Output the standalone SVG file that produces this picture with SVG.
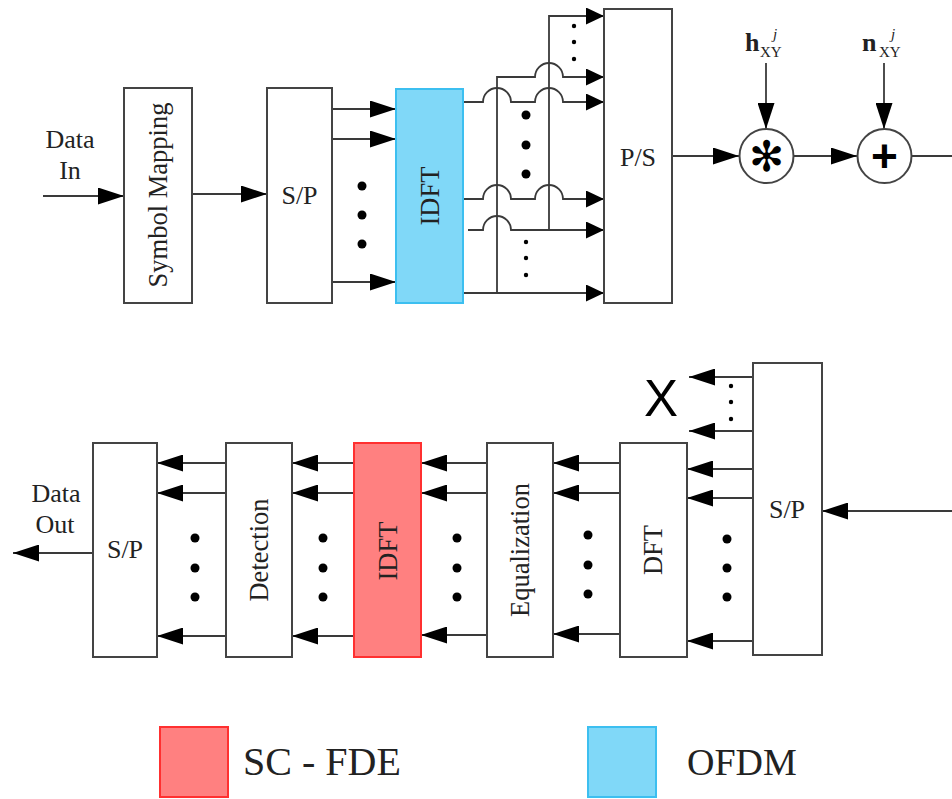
<svg xmlns="http://www.w3.org/2000/svg" width="952" height="799" viewBox="0 0 952 799">
<defs>
<style>
.box{fill:#fff;stroke:#444;stroke-width:2}
.blue{fill:#80d8f8;stroke:#3cbff0;stroke-width:2}
.red{fill:#ff8080;stroke:#ff3030;stroke-width:2}
.ln{fill:none;stroke:#3a3a3a;stroke-width:1.8}
.a{marker-end:url(#arr)}
.s{marker-end:url(#arrs)}
.t{font-family:"Liberation Serif","Times New Roman",serif;font-size:26px;fill:#222}
.v{font-family:"Liberation Serif","Times New Roman",serif;font-size:26.5px;fill:#222;text-anchor:middle;dominant-baseline:central}
.c{text-anchor:middle}
.dot{fill:#000}
</style>
<marker id="arr" markerUnits="userSpaceOnUse" markerWidth="26" markerHeight="17" refX="26" refY="8.5" orient="auto" viewBox="0 0 26 17"><path d="M0,0 L26,8.5 L0,17 z" fill="#000"/></marker>
<marker id="arrs" markerUnits="userSpaceOnUse" markerWidth="18" markerHeight="17" refX="18" refY="8.5" orient="auto" viewBox="0 0 18 17"><path d="M0,0 L18,8.5 L0,17 z" fill="#000"/></marker>
</defs>
<rect width="952" height="799" fill="#fff"/>

<g id="connectors">
<path class="ln a" d="M43,196 H124"/>
<path class="ln a" d="M192,194 H267"/>
<path class="ln a" d="M332,109 H396"/>
<path class="ln a" d="M332,139 H396"/>
<path class="ln a" d="M332,282 H396"/>
<path class="ln s" d="M463,102 H483 A14,14 0 0 1 511,102 H535 A14,14 0 0 1 563,102 H604"/>
<path class="ln s" d="M463,199 H483 A14,14 0 0 1 511,199 H535 A14,14 0 0 1 563,199 H604"/>
<path class="ln s" d="M468,230 H483 A14,14 0 0 1 511,230 H604"/>
<path class="ln s" d="M463,293 H604"/>
<path class="ln s" d="M497,293 V77 H535 A14,14 0 0 1 563,77 H604"/>
<path class="ln s" d="M549,230 V16 H604"/>
<path class="ln a" d="M672,156 H739"/>
<path class="ln a" d="M794,156 H857"/>
<path class="ln" d="M912,156 H952"/>
<path class="ln a" d="M766,63 V129"/>
<path class="ln a" d="M884,63 V129"/>
<path class="ln a" d="M952,511 H822"/>
<path class="ln a" d="M753,377 H689"/>
<path class="ln a" d="M753,431 H689"/>
<path class="ln a" d="M753,469 H687"/>
<path class="ln a" d="M753,498 H687"/>
<path class="ln a" d="M753,641 H687"/>
<path class="ln a" d="M620,463 H553"/>
<path class="ln a" d="M620,493 H553"/>
<path class="ln a" d="M620,634 H553"/>
<path class="ln a" d="M487,463 H421"/>
<path class="ln a" d="M487,493 H421"/>
<path class="ln a" d="M487,635 H421"/>
<path class="ln a" d="M354,463 H292"/>
<path class="ln a" d="M354,493 H292"/>
<path class="ln a" d="M354,636 H292"/>
<path class="ln a" d="M226,463 H157"/>
<path class="ln a" d="M226,493 H157"/>
<path class="ln a" d="M226,636 H157"/>
<path class="ln a" d="M93,553 H13"/>
</g>

<g id="dots">
<circle class="dot" cx="362" cy="186" r="4.5"/><circle class="dot" cx="362" cy="215" r="4.5"/><circle class="dot" cx="362" cy="244" r="4.5"/>
<circle class="dot" cx="526" cy="115" r="4.5"/><circle class="dot" cx="526" cy="145" r="4.5"/><circle class="dot" cx="526" cy="174" r="4.5"/>
<circle class="dot" cx="574" cy="26" r="2.2"/><circle class="dot" cx="574" cy="42" r="2.2"/><circle class="dot" cx="574" cy="59" r="2.2"/>
<circle class="dot" cx="526" cy="242" r="2.2"/><circle class="dot" cx="526" cy="258" r="2.2"/><circle class="dot" cx="526" cy="275" r="2.2"/>
<circle class="dot" cx="731" cy="386" r="2.2"/><circle class="dot" cx="731" cy="402" r="2.2"/><circle class="dot" cx="731" cy="419" r="2.2"/>
<circle class="dot" cx="727" cy="539" r="4.5"/><circle class="dot" cx="727" cy="568" r="4.5"/><circle class="dot" cx="727" cy="597" r="4.5"/>
<circle class="dot" cx="588" cy="535" r="4.5"/><circle class="dot" cx="588" cy="565" r="4.5"/><circle class="dot" cx="588" cy="594" r="4.5"/>
<circle class="dot" cx="457" cy="538" r="4.5"/><circle class="dot" cx="457" cy="568" r="4.5"/><circle class="dot" cx="457" cy="597" r="4.5"/>
<circle class="dot" cx="323" cy="538" r="4.5"/><circle class="dot" cx="323" cy="568" r="4.5"/><circle class="dot" cx="323" cy="597" r="4.5"/>
<circle class="dot" cx="195" cy="538" r="4.5"/><circle class="dot" cx="195" cy="568" r="4.5"/><circle class="dot" cx="195" cy="597" r="4.5"/>
</g>

<g id="data-in"><text class="t c" x="70" y="148">Data</text><text class="t c" x="70" y="179">In</text></g>
<g id="symbol-mapping"><rect class="box" x="124" y="88" width="68" height="215"/><text class="v" transform="rotate(-90 158 195)" x="158" y="195">Symbol Mapping</text></g>
<g id="sp-tx"><rect class="box" x="267" y="88" width="65" height="215"/><text class="t c" x="299.5" y="204">S/P</text></g>
<g id="idft-tx"><rect class="blue" x="396" y="89" width="67" height="214"/><text class="v" transform="rotate(-90 430 196)" x="430" y="196">IDFT</text></g>
<g id="ps"><rect class="box" x="604" y="9" width="68" height="294"/><text class="t c" x="638" y="166">P/S</text></g>
<g id="conv"><circle cx="766.5" cy="156" r="27" fill="#fff" stroke="#444" stroke-width="2"/><text x="766.5" y="171" font-family="DejaVu Sans,sans-serif" font-size="42" font-weight="bold" text-anchor="middle" fill="#000">✻</text></g>
<g id="adder"><circle cx="884.5" cy="156" r="27" fill="#fff" stroke="#444" stroke-width="2"/><text x="884.5" y="172" font-family="Liberation Sans,Arial,sans-serif" font-size="46" font-weight="bold" text-anchor="middle" fill="#000">+</text></g>
<g id="h-label" font-family="Liberation Serif,serif" fill="#222"><text x="745" y="51" font-size="26" font-weight="bold">h</text><text x="760" y="57" font-size="15">XY</text><text x="773" y="39" font-size="15" font-style="italic">j</text></g>
<g id="n-label" font-family="Liberation Serif,serif" fill="#222"><text x="862" y="51" font-size="26" font-weight="bold">n</text><text x="879" y="57" font-size="15">XY</text><text x="891" y="39" font-size="15" font-style="italic">j</text></g>

<g id="sp-rx"><rect class="box" x="753" y="363" width="69" height="292"/><text class="t c" x="787" y="518">S/P</text></g>
<g id="x-mark"><text x="661" y="416" font-family="Liberation Sans,Arial,sans-serif" font-size="51" text-anchor="middle" fill="#000">X</text></g>
<g id="dft"><rect class="box" x="620" y="443" width="67" height="214"/><text class="v" transform="rotate(-90 653 550)" x="653" y="550">DFT</text></g>
<g id="equalization"><rect class="box" x="487" y="443" width="66" height="214"/><text class="v" transform="rotate(-90 520 550)" x="520" y="550">Equalization</text></g>
<g id="idft-rx"><rect class="red" x="354" y="443" width="67" height="214"/><text class="v" transform="rotate(-90 388 551)" x="388" y="551">IDFT</text></g>
<g id="detection"><rect class="box" x="226" y="443" width="66" height="214"/><text class="v" transform="rotate(-90 259 550)" x="259" y="550">Detection</text></g>
<g id="sp-out"><rect class="box" x="93" y="443" width="64" height="214"/><text class="t c" x="125" y="558">S/P</text></g>
<g id="data-out"><text class="t c" x="56" y="502">Data</text><text class="t c" x="55" y="533">Out</text></g>

<g id="legend">
<rect class="red" x="160" y="727" width="68" height="70"/>
<text x="243" y="775" font-family="Liberation Serif,serif" font-size="40" fill="#222">SC - FDE</text>
<rect class="blue" x="588" y="727" width="68" height="70"/>
<text x="687" y="775" font-family="Liberation Serif,serif" font-size="38" fill="#222">OFDM</text>
</g>
</svg>
